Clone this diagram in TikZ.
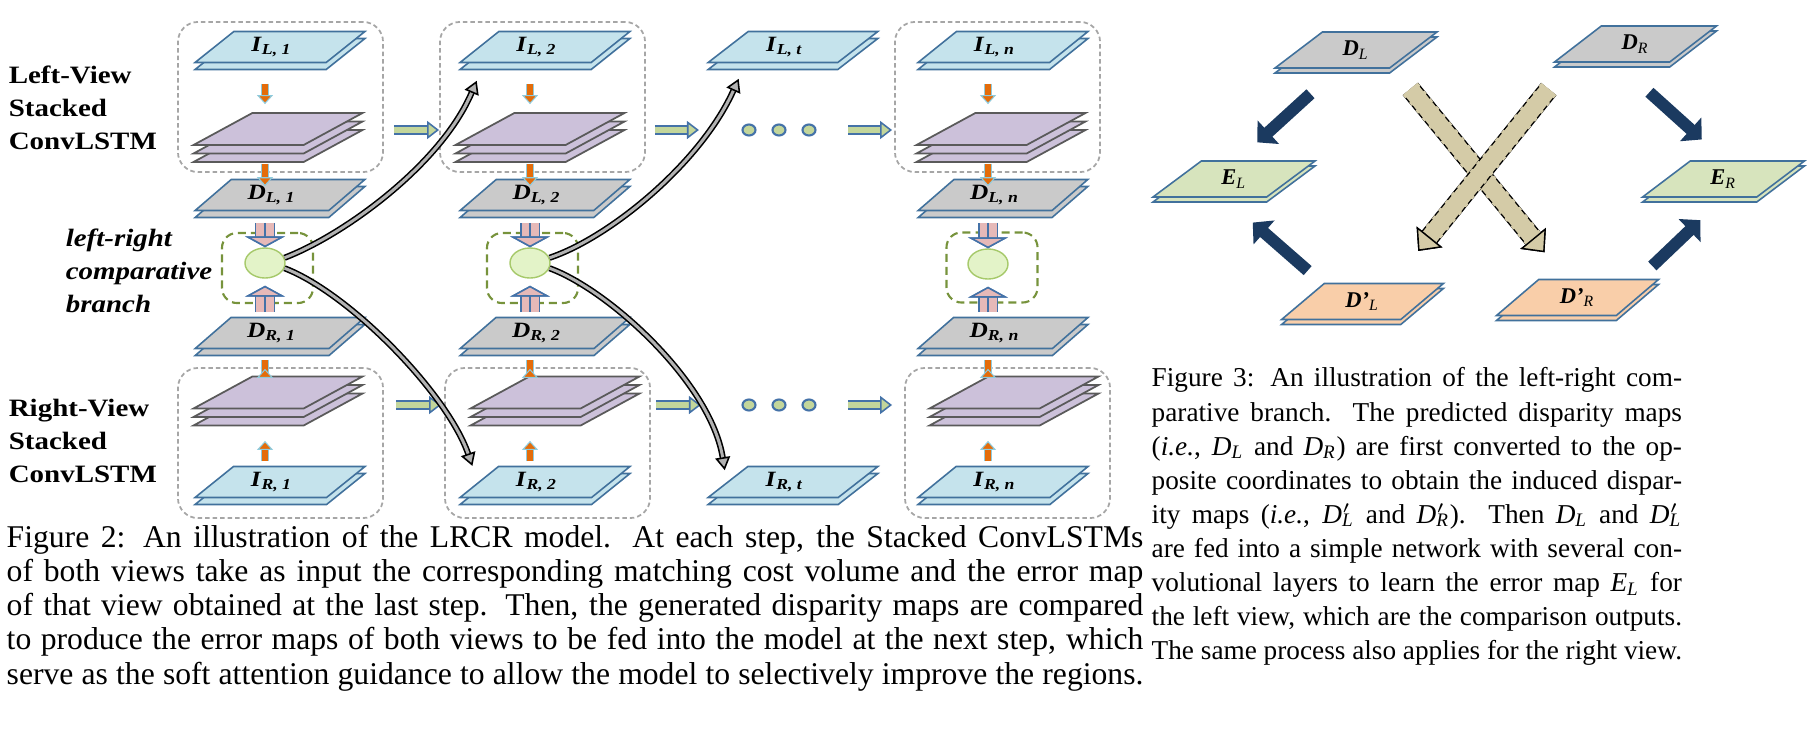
\documentclass[tikz,border=0pt]{standalone}
\usepackage{fontspec}
\setmainfont{Liberation Serif}
\usepackage{graphicx}
\usetikzlibrary{arrows.meta,shapes.geometric,shadows}

\definecolor{slabedge}{HTML}{41719C}
\definecolor{inpfill}{HTML}{C5E3EC}
\definecolor{dispfill}{HTML}{CACACA}
\definecolor{errfill}{HTML}{D7E4BD}
\definecolor{indfill}{HTML}{F9CEA9}
\definecolor{stackfill}{HTML}{CCC1DA}
\definecolor{stackedge}{HTML}{5A5A5A}
\definecolor{boxgray}{HTML}{A6A6A6}
\definecolor{cmpgreen}{HTML}{77933C}
\definecolor{cmpfill}{HTML}{E3F3C8}
\definecolor{cmpedge}{HTML}{A6C96A}
\definecolor{flowfill}{HTML}{C3D69B}
\definecolor{flowedge}{HTML}{4472A8}
\definecolor{pinkfill}{HTML}{E6B9B8}
\definecolor{orangefill}{HTML}{E46C0A}
\definecolor{orangeedge}{HTML}{8FCBDD}
\definecolor{navy}{HTML}{1B3A60}
\definecolor{khaki}{HTML}{D4CBA7}

% the labels of the left figure are printed a little stretched sideways
\newcommand{\stretchx}[1]{\scalebox{1.16}[1]{#1}}
\newcommand{\vmap}[2]{\stretchx{\textbf{\textit{#1}}\textsubscript{\textbf{\textit{#2}}}}\hspace*{0.16cm}}
\newcommand{\bmap}[2]{\textbf{\textit{#1}}\textsubscript{\textit{#2}}}
\newcommand{\mmap}[2]{\textit{#1}\textsubscript{\textit{#2}}}
\newcommand{\pmap}[2]{\textit{#1}\rlap{$'$}\textsubscript{\textit{#2}}}

\begin{document}
\begin{tikzpicture}[x=0.01cm, y=-0.01cm,
    sheet/.style={trapezium, trapezium stretches=true, inner sep=0pt,
      draw=slabedge, line width=0.45pt},
    slab/.style={sheet, trapezium left angle=40, trapezium right angle=140,
      minimum width=1.70cm, minimum height=0.31cm,
      font=\fontsize{6.2}{7}\selectfont,
      copy shadow={shadow xshift=0pt, shadow yshift=-0.07cm}},
    flat/.style={sheet, trapezium left angle=44, trapezium right angle=136,
      minimum width=1.62cm, minimum height=0.36cm,
      font=\fontsize{6.4}{7}\selectfont,
      copy shadow={shadow xshift=0pt, shadow yshift=-0.05cm}},
    stack/.style={sheet, trapezium left angle=41, trapezium right angle=139,
      minimum width=1.69cm, minimum height=0.32cm, inner sep=1pt,
      fill=stackfill, draw=stackedge, line width=0.5pt,
      copy shadow={shadow xshift=0pt, shadow yshift=-0.17cm},
      copy shadow={shadow xshift=0pt, shadow yshift=-0.085cm}},
    viewbox/.style={rounded corners=0.2cm, draw=boxgray, line width=0.5pt,
      dash pattern=on 0.045cm off 0.03cm, minimum width=2.05cm, minimum height=1.50cm},
    cmpbox/.style={rounded corners=0.15cm, draw=cmpgreen, line width=0.6pt,
      dash pattern=on 0.08cm off 0.05cm, minimum width=0.91cm, minimum height=0.70cm},
    cmp/.style={ellipse, minimum width=0.40cm, minimum height=0.30cm, inner sep=0pt,
      fill=cmpfill, draw=cmpedge, line width=0.4pt},
    dot/.style={ellipse, minimum width=0.13cm, minimum height=0.11cm, inner sep=0pt,
      fill=flowfill, draw=flowedge, line width=0.6pt},
    flow/.style={draw=flowedge, double=flowfill, line width=0.45pt, double distance=0.06cm,
      -{Triangle[length=0.12cm, width=0.18cm, fill=flowfill, line width=0.45pt]}},
    pair/.style={draw=flowedge, double=pinkfill, line width=0.45pt, double distance=0.17cm,
      -{Triangle[length=0.11cm, width=0.40cm, fill=pinkfill, line width=0.45pt]},
      postaction={draw=flowedge, line width=0.25pt, double distance=0pt}},
    feed/.style={draw=orangeedge, double=orangefill, line width=0.3pt, double distance=0.06cm,
      -{Triangle[length=0.09cm, width=0.16cm, fill=orangefill, line width=0.3pt]}},
    err/.style={draw=black, double=gray!60, line width=0.45pt, double distance=0.03cm,
      -{Triangle[length=0.13cm, width=0.15cm, fill=gray!60, line width=0.45pt]}},
    conv/.style={draw=navy, line width=0.12cm, -{Triangle[length=0.15cm, width=0.31cm]}},
    warp/.style={draw=black, double=khaki, line width=0.4pt, double distance=0.17cm,
      -{Triangle[length=0.18cm, width=0.33cm, fill=khaki, line width=0.4pt]},
      postaction={draw=khaki, line width=0.194cm, dash pattern=on 0.04cm off 0.06cm,
        -{Triangle[length=0.18cm, width=0.33cm, fill=khaki, color=black, line width=0.4pt]}}},
    sidelbl/.style={font=\fontsize{7.1}{9.4}\selectfont\bfseries, align=left,
      inner sep=0pt, anchor=north west, xscale=1.16},
    caption/.style={align=left, inner sep=0pt, anchor=north west}
  ]
  \useasboundingbox (0,0) rectangle (1818,730);

  % ══ FIGURE 2: LRCR model ═══════════════════════════════════════════════════
  \node[sidelbl] (lview) at (8,65) {Left-View\\Stacked\\ConvLSTM};
  \node[sidelbl, font=\fontsize{7.1}{9.4}\selectfont\bfseries\itshape] (cmplbl)
    at (65,228) {left-right\\comparative\\branch};
  \node[sidelbl] (rview) at (8,398) {Right-View\\Stacked\\ConvLSTM};

  % step 1
  \node[viewbox] (TB1) at (280.5,97) {};
  \node[viewbox] (BB1) at (280.5,443) {};
  \node[cmpbox] (B1) at (267.5,268) {};
  \node[slab, fill=inpfill] (IL1) at (280,47) {\vmap{I}{L, 1}};
  \node[stack] (SL1) at (278,129) {};
  \node[slab, fill=dispfill] (DL1) at (280,195) {\vmap{D}{L, 1}};
  \node[cmp] (C1) at (265,263) {};
  \node[slab, fill=dispfill] (DR1) at (280,333) {\vmap{D}{R, 1}};
  \node[stack] (SR1) at (278,392.5) {};
  \node[slab, fill=inpfill] (IR1) at (280,482) {\vmap{I}{R, 1}};
  \draw[feed, shorten <=0.205cm, shorten >=0.08cm] (IL1.south -| C1) -- (SL1.north -| C1);
  \draw[feed, shorten <=0.18cm, shorten >=-0.075cm] (SL1.south -| C1) -- (DL1.north -| C1);
  \draw[pair, shorten <=0.115cm] (DL1.south -| C1) -- (C1.north);
  \draw[pair, shorten <=0.045cm, shorten >=0.07cm] (DR1.north -| C1) -- (C1.south);
  \draw[feed, shorten <=-0.155cm, shorten >=0.195cm] (SR1.north -| C1) -- (DR1.south -| C1);
  \draw[feed, shorten <=0.045cm, shorten >=0.315cm] (IR1.north -| C1) -- (SR1.south -| C1);

  % step 2
  \node[viewbox] (TB2) at (542.5,97) {};
  \node[viewbox] (BB2) at (547.5,443) {};
  \node[cmpbox] (B2) at (532.5,268) {};
  \node[slab, fill=inpfill] (IL2) at (545,47) {\vmap{I}{L, 2}};
  \node[stack] (SL2) at (540,129) {};
  \node[slab, fill=dispfill] (DL2) at (545,195) {\vmap{D}{L, 2}};
  \node[cmp] (C2) at (530,263) {};
  \node[slab, fill=dispfill] (DR2) at (545,333) {\vmap{D}{R, 2}};
  \node[stack] (SR2) at (555,392.5) {};
  \node[slab, fill=inpfill] (IR2) at (545,482) {\vmap{I}{R, 2}};
  \draw[feed, shorten <=0.205cm, shorten >=0.08cm] (IL2.south -| C2) -- (SL2.north -| C2);
  \draw[feed, shorten <=0.18cm, shorten >=-0.075cm] (SL2.south -| C2) -- (DL2.north -| C2);
  \draw[pair, shorten <=0.115cm] (DL2.south -| C2) -- (C2.north);
  \draw[pair, shorten <=0.045cm, shorten >=0.07cm] (DR2.north -| C2) -- (C2.south);
  \draw[feed, shorten <=-0.155cm, shorten >=0.195cm] (SR2.north -| C2) -- (DR2.south -| C2);
  \draw[feed, shorten <=0.045cm, shorten >=0.315cm] (IR2.north -| C2) -- (SR2.south -| C2);

  % step t
  \node[slab, fill=inpfill] (ILt) at (793,47) {\vmap{I}{L, t}};
  \node[slab, fill=inpfill] (IRt) at (793,482) {\vmap{I}{R, t}};
  \foreach \k/\x in {1/749, 2/779, 3/809} {
    \node[dot] (dL\k) at (\x,130) {};
    \node[dot] (dR\k) at (\x,405) {};
  }

  % step n
  \node[viewbox] (TBn) at (997.5,97) {};
  \node[viewbox] (BBn) at (1007.5,443) {};
  \node[cmpbox] (Bn) at (992,267.5) {};
  \node[slab, fill=inpfill] (ILn) at (1003,47) {\vmap{I}{L, n}};
  \node[stack] (SLn) at (1001,129) {};
  \node[slab, fill=dispfill] (DLn) at (1003,195) {\vmap{D}{L, n}};
  \node[cmp] (Cn) at (988,264) {};
  \node[slab, fill=dispfill] (DRn) at (1003,333) {\vmap{D}{R, n}};
  \node[stack] (SRn) at (1014,392.5) {};
  \node[slab, fill=inpfill] (IRn) at (1003,482) {\vmap{I}{R, n}};
  \draw[feed, shorten <=0.205cm, shorten >=0.08cm] (ILn.south -| Cn) -- (SLn.north -| Cn);
  \draw[feed, shorten <=0.18cm, shorten >=-0.075cm] (SLn.south -| Cn) -- (DLn.north -| Cn);
  \draw[pair, shorten <=0.115cm] (DLn.south -| Cn) -- (Cn.north);
  \draw[pair, shorten <=0.045cm, shorten >=0.07cm] (DRn.north -| Cn) -- (Cn.south);
  \draw[feed, shorten <=-0.155cm, shorten >=0.195cm] (SRn.north -| Cn) -- (DRn.south -| Cn);
  \draw[feed, shorten <=0.045cm, shorten >=0.315cm] (IRn.north -| Cn) -- (SRn.south -| Cn);

  % hidden states passed on
  \draw[flow, shorten <=0.10cm] (TB1.east |- dL1) -- (TB2.west |- dL1);
  \draw[flow, shorten <=0.09cm, shorten >=0.425cm] (TB2.east |- dL1) -- (dL1);
  \draw[flow, shorten <=0.315cm, shorten >=0.02cm] (dL3) -- (TBn.west |- dL3);
  \draw[flow, shorten <=0.12cm, shorten >=0.03cm] (BB1.east |- dR1) -- (BB2.west |- dR1);
  \draw[flow, shorten <=0.05cm, shorten >=0.405cm] (BB2.east |- dR1) -- (dR1);
  \draw[flow, shorten <=0.315cm, shorten >=0.12cm] (dR3) -- (BBn.west |- dR3);

  % error maps fed to the next step
  \draw[err, shorten >=0.19cm] (C1.15) .. controls +(60,-23) and +(-43,101) .. (IL2.-165);
  \draw[err, shorten >=0.17cm] (C1.-15) .. controls +(65,25) and +(-31,-89) .. (IR2.west);
  \draw[err, shorten >=0.17cm] (C2.15) .. controls +(60,-20) and +(-45,100) .. (ILt.-161);
  \draw[err, shorten >=0.12cm] (C2.-15) .. controls +(60,22) and +(-16,-99) .. (IRt.west);

  \node[caption, font=\fontsize{9}{9.76}\selectfont] (cap2) at (6,524) {%
    \makebox[11.36cm][s]{Figure 2: An illustration of the LRCR model. At each step, the Stacked ConvLSTMs}\\
    \makebox[11.36cm][s]{of both views take as input the corresponding matching cost volume and the error map}\\
    \makebox[11.36cm][s]{of that view obtained at the last step. Then, the generated disparity maps are compared}\\
    \makebox[11.36cm][s]{to produce the error maps of both views to be fed into the model at the next step, which}\\
    \makebox[11.36cm][s]{serve as the soft attention guidance to allow the model to selectively improve the regions.}};

  % ══ FIGURE 3: comparative branch ══════════════════════════════════════════
  \node[flat, fill=dispfill] (DL) at (1356,50) {\bmap{D}{L}};
  \node[flat, fill=dispfill] (DR) at (1635.5,44) {\bmap{D}{R}};
  \node[flat, fill=errfill] (EL) at (1234,179) {\bmap{E}{L}};
  \node[flat, fill=errfill] (ER) at (1723.5,179) {\bmap{E}{R}};
  \node[flat, fill=indfill] (DpL) at (1362.5,301.5) {\bmap{D’}{L}};
  \node[flat, fill=indfill] (DpR) at (1577.5,297.5) {\bmap{D’}{R}};

  % converted to the opposite view
  \draw[warp, shorten <=0.284cm, shorten >=0.342cm] (DL.-25) -- (DpR.121);
  \draw[warp, shorten <=0.337cm, shorten >=0.408cm] (DR.-164) -- (DpL.32);

  % simple conv network
  \draw[conv, shorten <=0.37cm, shorten >=0.265cm] (DL.-134) -- (EL.79);
  \draw[conv, shorten <=0.20cm, shorten >=0.376cm] (DpL.156) -- (EL.-117);
  \draw[conv, shorten <=0.44cm, shorten >=0.31cm] (DR.-135) -- (ER.86);
  \draw[conv, shorten <=0.184cm, shorten >=0.324cm] (DpR.17) -- (ER.-89);

  \node[caption, font=\fontsize{7.75}{9.7}\selectfont] (cap3) at (1151,367) {%
    \makebox[5.30cm][s]{Figure 3: An illustration of the left-right com-}\\
    \makebox[5.30cm][s]{parative branch. The predicted disparity maps}\\
    \makebox[5.30cm][s]{(\textit{i.e.}, \mmap{D}{L} and \mmap{D}{R}) are first converted to the op-}\\
    \makebox[5.30cm][s]{posite coordinates to obtain the induced dispar-}\\
    \makebox[5.30cm][s]{ity maps (\textit{i.e.}, \pmap{D}{L} and \pmap{D}{R}). Then \mmap{D}{L} and \pmap{D}{L}}\\
    \makebox[5.30cm][s]{are fed into a simple network with several con-}\\
    \makebox[5.30cm][s]{volutional layers to learn the error map \mmap{E}{L} for}\\
    \makebox[5.30cm][s]{the left view, which are the comparison outputs.}\\
    \makebox[5.30cm][s]{The same process also applies for the right view.}};
\end{tikzpicture}
\end{document}
